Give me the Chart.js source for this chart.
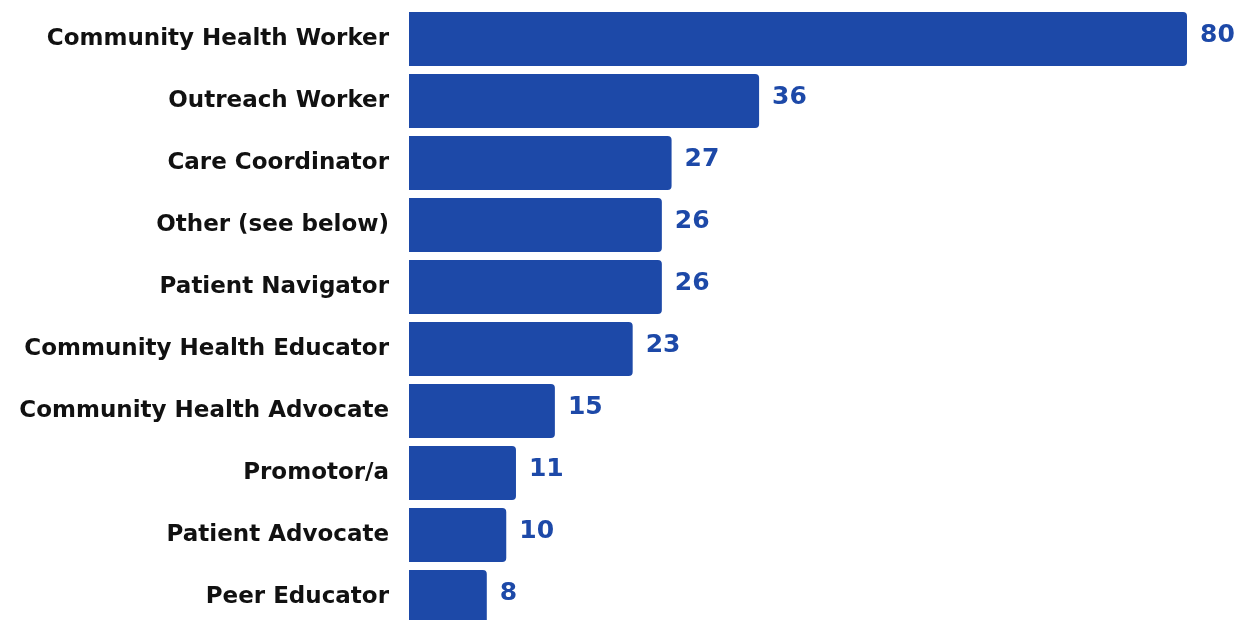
<!DOCTYPE html>
<html>
<head>
<meta charset="utf-8">
<script src="https://cdn.jsdelivr.net/npm/chart.js@4"></script>
<style>
  html, body { margin: 0; padding: 0; background: #fff; overflow: hidden; }
  #wrap { position: relative; width: 1245px; height: 640px; }
</style>
</head>
<body>
<div id="wrap"><canvas id="rolesChart"></canvas></div>
<script>
// job titles and counts
var roles = ["Community Health Worker", "Outreach Worker", "Care Coordinator", "Other (see below)",
  "Patient Navigator", "Community Health Educator", "Community Health Advocate", "Promotor/a",
  "Patient Advocate", "Peer Educator"];
var counts = [80, 36, 27, 26, 26, 23, 15, 11, 10, 8];

var barBlue = '#1d49a8';
var fontFam = "'DejaVu Sans', sans-serif";

// value labels at bar ends
var valueLabels = {
  id: 'valueLabels',
  afterDatasetsDraw: function(chart) {
    var ctx = chart.ctx;
    var meta = chart.getDatasetMeta(0);
    ctx.save();
    ctx.font = "bold 25px " + fontFam;
    ctx.fillStyle = barBlue;
    ctx.textAlign = 'left';
    ctx.textBaseline = 'middle';
    meta.data.forEach(function(bar, i) {
      ctx.fillText(counts[i], bar.x + 13, bar.y - 4);
    });
    ctx.restore();
  }
};

var ctx = document.getElementById("rolesChart").getContext('2d');
var rolesChart = new Chart(ctx, {
  type: 'bar',
  data: {
    labels: roles,
    datasets: [{
      data: counts,
      backgroundColor: barBlue,
      borderRadius: 4,
      borderSkipped: 'start',
      categoryPercentage: 1,
      barPercentage: 0.87
    }]
  },
  options: {
    indexAxis: 'y',
    responsive: true,
    maintainAspectRatio: false,
    animation: false,
    layout: { padding: { top: 8, bottom: 12, right: 58, left: 0 } },
    plugins: {
      legend: { display: false },
      tooltip: { enabled: false }
    },
    scales: {
      x: { display: false, min: 0, max: 80 },
      y: {
        grid: { display: false, drawTicks: false },
        border: { display: false },
        afterFit: function(scale) {
          scale.width = 409;
          scale.paddingTop = 0;
          scale.paddingBottom = 0;
        },
        ticks: {
          padding: 20,
          color: '#111',
          font: { family: fontFam, size: 23, weight: 'bold' }
        }
      }
    }
  },
  plugins: [valueLabels]
});
</script>
</body>
</html>
